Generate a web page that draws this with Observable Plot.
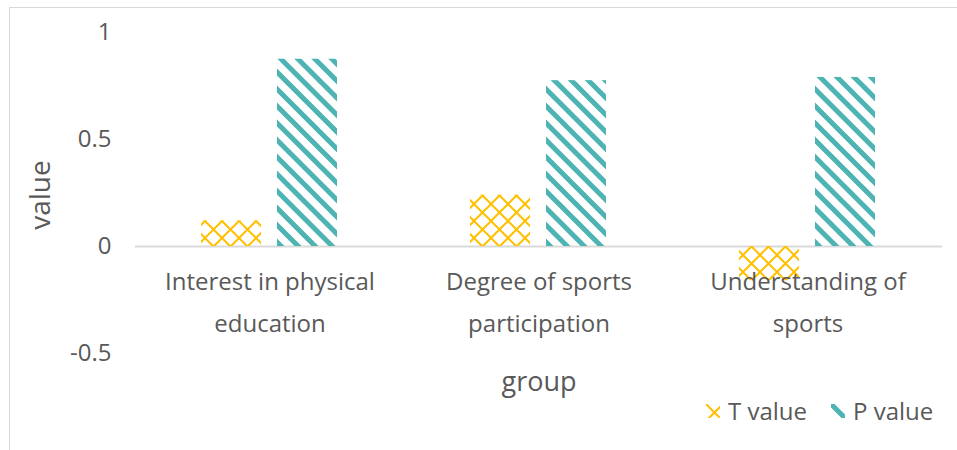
<!DOCTYPE html>
<html><head><meta charset="utf-8">
<script src="https://cdn.jsdelivr.net/npm/d3@7"></script>
<script src="https://cdn.jsdelivr.net/npm/@observablehq/plot@0.6"></script>
<style>
html,body{margin:0;padding:0;background:#fff;}
body{font-family:"Open Sans","Noto Sans",sans-serif;color:#595959;}
#wrap{position:relative;width:957px;height:450px;overflow:hidden;}
#border{position:absolute;left:9px;top:7px;width:980px;height:480px;border:1px solid #d9d9d9;box-sizing:border-box;}
#chart{position:absolute;left:0;top:0;}
#defs{position:absolute;left:0;top:0;width:0;height:0;}
#legend{position:absolute;left:706px;top:394px;display:flex;align-items:center;font-size:24px;line-height:34px;white-space:nowrap;}
#legend .item{display:flex;align-items:center;margin-right:24px;}
#legend svg{margin-right:8px;}
</style>
</head><body>
<svg id="defs" width="0" height="0">
  <defs>
    <pattern id="patT" patternUnits="userSpaceOnUse" width="17" height="17">
      <path d="M0,0L17,17M17,0L0,17" stroke="#FFC000" stroke-width="2" fill="none"/>
    </pattern>
    <pattern id="patP" patternUnits="userSpaceOnUse" width="17" height="17">
      <path d="M-3,-3L20,20M-3,14L3,20M14,-3L20,3" stroke="#4DB3B3" stroke-width="5" fill="none"/>
    </pattern>
  </defs>
</svg>
<div id="wrap">
  <div id="border"></div>
  <div id="chart"></div>
  <div id="legend"></div>
</div>
<script>
const groups = ["Interest in physical education", "Degree of sports participation", "Understanding of sports"];
const groupLabels = ["Interest in physical\neducation", "Degree of sports\nparticipation", "Understanding of\nsports"];
const series = ["T value", "P value"];
const tValues = [0.12, 0.24, -0.16];
const pValues = [0.875, 0.775, 0.79];
const yTicks = [-0.5, 0, 0.5, 1];
const seriesFills = ["url(#patT)", "url(#patP)"];
const xTitle = "group";
const yTitle = "value";

const data = [];
groups.forEach((g, i) => {
  data.push({group: g, series: series[0], value: tValues[i]});
  data.push({group: g, series: series[1], value: pValues[i]});
});
const labelData = groups.map((g, i) => ({group: g, label: groupLabels[i]}));

const chart = Plot.plot({
  width: 957,
  height: 450,
  marginLeft: 134,
  marginRight: 15,
  marginTop: 32,
  marginBottom: 97,
  style: {fontFamily: '"Open Sans","Noto Sans",sans-serif', fontSize: "24px", color: "#595959", background: "transparent"},
  y: {domain: [-0.5, 1], label: null},
  fx: {domain: groups, padding: 0, label: null, axis: null},
  x: {domain: series, paddingInner: 0.208, paddingOuter: 0.857, axis: null},
  color: {domain: series, range: seriesFills},
  marks: [
    Plot.axisY({ticks: yTicks, tickSize: 0, tickPadding: 24, label: null, tickFormat: d => String(d), fontSize: 24, fill: "#595959"}),
    Plot.ruleY([0], {stroke: "#d9d9d9", strokeWidth: 2}),
    Plot.barY(data, {fx: "group", x: "series", y: "value", fill: "series"}),
    Plot.text(labelData, {fx: "group", y: 0, text: "label", dy: 51, lineHeight: 1.75, fontSize: 24, fill: "#595959"}),
    Plot.text([yTitle], {facet: "super", frameAnchor: "left", textAnchor: "middle", lineAnchor: "middle", dx: -94, dy: 2, rotate: -90, fontSize: 28, fill: "#595959"}),
    Plot.text([xTitle], {facet: "super", frameAnchor: "bottom", lineAnchor: "middle", dy: 29, fontSize: 27, fill: "#595959"})
  ]
});
document.getElementById("chart").appendChild(chart);

const legend = document.getElementById("legend");
series.forEach((s, i) => {
  const item = document.createElement("div");
  item.className = "item";
  item.innerHTML = `<svg width="14" height="14"><rect width="14" height="14" fill="${seriesFills[i]}"/></svg><span>${s}</span>`;
  legend.appendChild(item);
});
</script>
</body></html>
